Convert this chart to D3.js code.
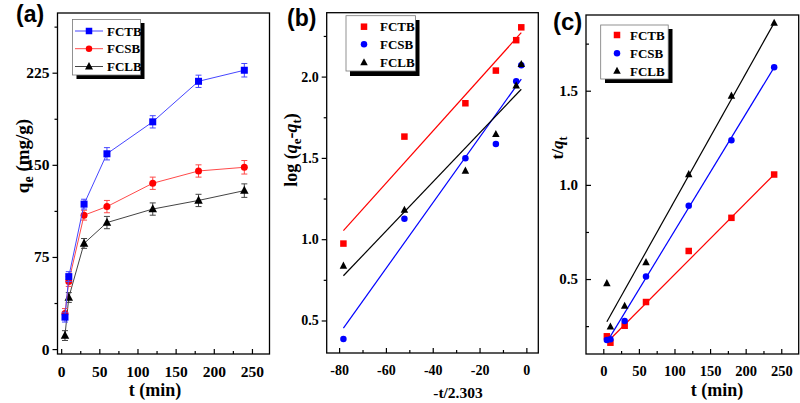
<!DOCTYPE html>
<html><head><meta charset="utf-8">
<script src="https://cdn.jsdelivr.net/npm/d3@7/dist/d3.min.js"></script>
<style>
body{margin:0;background:#fff;}
svg{display:block;}
.tk path,.tk line{stroke:#000;stroke-width:1.2;}
</style></head><body>
<svg id="c" width="800" height="403"></svg>
<script>
// ---------- DATA ----------
const series = ["FCTB", "FCSB", "FCLB"];
// panel (a): kinetics
const tA = [5, 10, 30, 60, 120, 180, 240];
const qFCTB = [26, 59, 118, 159, 185, 218, 227];
const qFCSB = [29, 55, 109, 116, 135, 145, 148];
const qFCLB = [11, 42, 86, 103, 114, 121, 129];
const errFCTB = [4, 4, 4, 5, 5, 5, 5.5];
const errFCSB = [4, 4, 4, 5, 5, 5, 5.5];
const errFCLB = [4, 4, 4, 5, 5, 5, 5.5];
const yTicksA = [0, 75, 150, 225];
const yMinorA = [37.5, 112.5, 187.5, 262.5];
const xTicksA = [0, 50, 100, 150, 200, 250];
const xMinorA = [25, 75, 125, 175, 225];
// panel (b): pseudo-first-order
const xB = [-78.16, -52.10, -26.05, -13.03, -4.34, -2.17];
const logFCTB = [0.973, 1.631, 1.836, 2.037, 2.224, 2.303];
const logFCSB = [0.386, 1.125, 1.498, 1.586, 1.972, 2.07];
const logFCLB = [0.836, 1.18, 1.42, 1.646, 1.945, 2.076];
const fitXB = [-78.16, -2.17];
const fitFCTB_B = [1.053, 2.27];
const fitFCSB_B = [0.453, 1.985];
const fitFCLB_B = [0.775, 1.922];
const yTicksB = [0.5, 1.0, 1.5, 2.0];
const yMinorB = [0.75, 1.25, 1.75, 2.25];
const xTicksB = [-80, -60, -40, -20, 0];
const xMinorB = [-70, -50, -30, -10];
// panel (c): pseudo-second-order
const tC = [5, 10, 30, 60, 120, 180, 240];
const tqFCTB = [0.196, 0.162, 0.252, 0.378, 0.649, 0.825, 1.055];
const tqFCSB = [0.176, 0.18, 0.277, 0.514, 0.889, 1.237, 1.624];
const tqFCLB = [0.477, 0.247, 0.357, 0.589, 1.056, 1.473, 1.86];
const fitXC = [5, 240];
const fitFCTB_C = [0.163, 1.055];
const fitFCSB_C = [0.165, 1.624];
const fitFCLB_C = [0.273, 1.86];
const yTicksC = [0.5, 1.0, 1.5];
const yMinorC = [0.25, 0.75, 1.25, 1.75];
const xTicksC = [0, 50, 100, 150, 200, 250];
const xMinorC = [25, 75, 125, 175, 225];

// ---------- DRAWING ----------
const svg = d3.select("#c");
const SERIF = '"Liberation Serif","Times New Roman",serif';
const SANS = '"Liberation Sans",Arial,sans-serif';
const intFmt = v => String(v);
const dec1 = v => v.toFixed(1);

function marker(g, shape, x, y, color, s) {
  if (shape === "square") {
    g.append("rect").attr("x", x - s/2).attr("y", y - s/2).attr("width", s).attr("height", s).attr("fill", color);
  } else if (shape === "circle") {
    g.append("circle").attr("cx", x).attr("cy", y).attr("r", s/2).attr("fill", color);
  } else {
    const h = s * 0.95;
    g.append("path").attr("d", `M${x},${y - h*0.6}L${x + s/2},${y + h*0.4}L${x - s/2},${y + h*0.4}Z`).attr("fill", color);
  }
}

function styleText(sel, fs) {
  sel.selectAll("text").attr("font-family", SERIF).attr("font-weight", "bold").attr("font-size", fs).attr("fill", "#000");
}

function panel(o) {
  const x = d3.scaleLinear().domain(o.xd).range([o.l, o.r]);
  const y = d3.scaleLinear().domain(o.yd).range([o.b, o.t]);
  const g = svg.append("g");
  const fs = o.fs;
  const xa = g.append("g").attr("class", "tk").attr("transform", `translate(0,${o.b})`)
    .call(d3.axisBottom(x).tickValues(o.xt).tickSizeInner(-5).tickSizeOuter(0).tickPadding(o.xpad).tickFormat(o.xf));
  styleText(xa, fs);
  xa.select(".domain").remove();
  g.append("g").attr("class", "tk").attr("transform", `translate(0,${o.b})`)
    .call(d3.axisBottom(x).tickValues(o.xm).tickSizeInner(-3).tickSizeOuter(0).tickFormat(""))
    .select(".domain").remove();
  const ys = o.yOut ? 5 : -5;
  const ya = g.append("g").attr("class", "tk").attr("transform", `translate(${o.l},0)`)
    .call(d3.axisLeft(y).tickValues(o.yt).tickSizeInner(ys).tickSizeOuter(0).tickPadding(o.ypad).tickFormat(o.yf));
  styleText(ya, o.yfs || fs);
  ya.select(".domain").remove();
  g.append("g").attr("class", "tk").attr("transform", `translate(${o.l},0)`)
    .call(d3.axisLeft(y).tickValues(o.ym).tickSizeInner(o.yOut ? 3 : -3).tickSizeOuter(0).tickFormat(""))
    .select(".domain").remove();
  g.append("rect").attr("x", o.l).attr("y", o.t).attr("width", o.r - o.l).attr("height", o.b - o.t)
    .attr("fill", "none").attr("stroke", "#000").attr("stroke-width", 1.3);
  return {x, y, g};
}

function serifText(g, x, y, fs, txt, anchor) {
  return g.append("text").attr("x", x).attr("y", y).attr("text-anchor", anchor || "start")
    .attr("font-family", SERIF).attr("font-weight", "bold").attr("font-size", fs).text(txt);
}

// ---- Panel (a)
{
  const P = panel({l: 57.5, r: 269.5, t: 13, b: 354, xd: [-4.8, 273], yd: [-4, 273.6],
    xt: xTicksA, xm: xMinorA, yt: yTicksA, ym: yMinorA, fs: 15.5, yOut: true,
    xpad: 12, ypad: 3, xf: intFmt, yf: intFmt});
  const {x, y, g} = P;
  const cols = {FCTB: "#0000ff", FCSB: "#ff0000", FCLB: "#000000"};
  const lcols = {FCTB: "#4646ff", FCSB: "#ff4a4a", FCLB: "#444444"};
  const shapes = {FCTB: "square", FCSB: "circle", FCLB: "triangle"};
  const data = {FCTB: qFCTB, FCSB: qFCSB, FCLB: qFCLB};
  const errs = {FCTB: errFCTB, FCSB: errFCSB, FCLB: errFCLB};
  const line = d3.line().x(d => x(d[0])).y(d => y(d[1]));
  ["FCLB", "FCSB", "FCTB"].forEach(s => {
    g.append("path").attr("d", line(tA.map((t, i) => [t, data[s][i]])))
      .attr("fill", "none").attr("stroke", lcols[s]).attr("stroke-width", 1);
    tA.forEach((t, i) => {
      const v = data[s][i], e = errs[s][i];
      const px = x(t);
      g.append("line").attr("x1", px).attr("x2", px).attr("y1", y(v - e)).attr("y2", y(v + e)).attr("stroke", lcols[s]).attr("stroke-width", 1);
      [v - e, v + e].forEach(w => g.append("line").attr("x1", px - 3).attr("x2", px + 3).attr("y1", y(w)).attr("y2", y(w)).attr("stroke", lcols[s]).attr("stroke-width", 1));
    });
    tA.forEach((t, i) => marker(g, shapes[s], x(t), y(data[s][i]), cols[s], s === "FCLB" ? 8.5 : 7));
  });
  const lg = g.append("g");
  lg.append("rect").attr("x", 76.5).attr("y", 23).attr("width", 68).attr("height", 56).attr("fill", "#000");
  lg.append("rect").attr("x", 72.5).attr("y", 19.5).attr("width", 68).attr("height", 55.5).attr("fill", "#fff").attr("stroke", "#777").attr("stroke-width", 0.8);
  const ly = [31, 48.7, 66.5];
  series.forEach((s, i) => {
    lg.append("line").attr("x1", 75).attr("x2", 103).attr("y1", ly[i]).attr("y2", ly[i]).attr("stroke", lcols[s]).attr("stroke-width", 1);
    marker(lg, shapes[s], 89, ly[i], cols[s], s === "FCLB" ? 8 : 6.5);
    serifText(lg, 107, ly[i] + 4.5, 13, s);
  });
  serifText(g, 155, 396, 18, "t (min)", "middle");
  const yt = g.append("text").attr("transform", "translate(29,156) rotate(-90)").attr("text-anchor", "middle").attr("font-family", SERIF).attr("font-weight", "bold").attr("font-size", 19);
  yt.append("tspan").text("q");
  yt.append("tspan").attr("font-size", 14).attr("dy", 4).text("e");
  yt.append("tspan").attr("dy", -4).text(" (mg/g)");
  g.append("text").attr("x", 16).attr("y", 22).attr("font-family", SANS).attr("font-weight", "bold").attr("font-size", 23).text("(a)");
}

// ---- Panel (b)
{
  const P = panel({l: 326.7, r: 538.3, t: 12.7, b: 353, xd: [-85.3, 5.1], yd: [0.3, 2.393],
    xt: xTicksB, xm: xMinorB, yt: yTicksB, ym: yMinorB, fs: 14, yOut: true,
    xpad: 12, ypad: 3, xf: intFmt, yf: dec1});
  const {x, y, g} = P;
  const cols = {FCTB: "#ff0000", FCSB: "#0000ff", FCLB: "#000000"};
  const shapes = {FCTB: "square", FCSB: "circle", FCLB: "triangle"};
  const data = {FCTB: logFCTB, FCSB: logFCSB, FCLB: logFCLB};
  const fits = {FCTB: fitFCTB_B, FCSB: fitFCSB_B, FCLB: fitFCLB_B};
  series.forEach(s => {
    g.append("line").attr("x1", x(fitXB[0])).attr("x2", x(fitXB[1])).attr("y1", y(fits[s][0])).attr("y2", y(fits[s][1]))
      .attr("stroke", cols[s]).attr("stroke-width", 1.2);
  });
  series.forEach(s => {
    xB.forEach((v, i) => marker(g, shapes[s], x(v), y(data[s][i]), cols[s], s === "FCLB" ? 7.5 : 6.5));
  });
  const lg = g.append("g");
  lg.append("rect").attr("x", 350).attr("y", 20).attr("width", 69.5).attr("height", 56).attr("fill", "#000");
  lg.append("rect").attr("x", 346).attr("y", 15.7).attr("width", 69.5).attr("height", 55.3).attr("fill", "#fff").attr("stroke", "#777").attr("stroke-width", 0.8);
  const ly = [26.7, 44.3, 62.5];
  series.forEach((s, i) => {
    marker(lg, shapes[s], 364, ly[i], cols[s], s === "FCLB" ? 7.5 : 6.5);
    serifText(lg, 380, ly[i] + 4.5, 13, s);
  });
  serifText(g, 458, 398, 15.5, "-t/2.303", "middle");
  const yt = g.append("text").attr("transform", "translate(297,150) rotate(-90)").attr("text-anchor", "middle").attr("font-family", SERIF).attr("font-weight", "bold").attr("font-size", 18);
  yt.append("tspan").text("log (");
  yt.append("tspan").attr("font-style", "italic").text("q");
  yt.append("tspan").attr("font-size", 13).attr("dy", 4).text("e");
  yt.append("tspan").attr("dy", -4).text("-");
  yt.append("tspan").attr("font-style", "italic").text("q");
  yt.append("tspan").attr("font-size", 13).attr("dy", 4).text("t");
  yt.append("tspan").attr("dy", -4).text(")");
  g.append("text").attr("x", 287).attr("y", 26).attr("font-family", SANS).attr("font-weight", "bold").attr("font-size", 23).text("(b)");
}

// ---- Panel (c)
{
  const P = panel({l: 586, r: 798.7, t: 15, b: 354, xd: [-24.3, 274.5], yd: [0.102, 1.902],
    xt: xTicksC, xm: xMinorC, yt: yTicksC, ym: yMinorC, fs: 14.5, yfs: 15, yOut: false,
    xpad: 12, ypad: 8, xf: intFmt, yf: dec1});
  const {x, y, g} = P;
  const cols = {FCTB: "#ff0000", FCSB: "#0000ff", FCLB: "#000000"};
  const shapes = {FCTB: "square", FCSB: "circle", FCLB: "triangle"};
  const data = {FCTB: tqFCTB, FCSB: tqFCSB, FCLB: tqFCLB};
  const fits = {FCTB: fitFCTB_C, FCSB: fitFCSB_C, FCLB: fitFCLB_C};
  series.forEach(s => {
    g.append("line").attr("x1", x(fitXC[0])).attr("x2", x(fitXC[1])).attr("y1", y(fits[s][0])).attr("y2", y(fits[s][1]))
      .attr("stroke", cols[s]).attr("stroke-width", 1.2);
  });
  series.forEach(s => {
    tC.forEach((v, i) => marker(g, shapes[s], x(v), y(data[s][i]), cols[s], s === "FCLB" ? 7.5 : 6.5));
  });
  const lg = g.append("g");
  lg.append("rect").attr("x", 605).attr("y", 29).attr("width", 67.5).attr("height", 54).attr("fill", "#000");
  lg.append("rect").attr("x", 600.7).attr("y", 25).attr("width", 67.5).attr("height", 54).attr("fill", "#fff").attr("stroke", "#777").attr("stroke-width", 0.8);
  const ly = [35, 53.3, 71];
  series.forEach((s, i) => {
    marker(lg, shapes[s], 617, ly[i], cols[s], s === "FCLB" ? 7.5 : 6.5);
    serifText(lg, 630, ly[i] + 4.5, 13, s);
  });
  serifText(g, 717, 396, 18, "t (min)", "middle");
  const yt = g.append("text").attr("transform", "translate(563,148) rotate(-90)").attr("text-anchor", "middle").attr("font-family", SERIF).attr("font-weight", "bold").attr("font-size", 17);
  yt.append("tspan").text("t/");
  yt.append("tspan").attr("font-style", "italic").text("q");
  yt.append("tspan").attr("font-size", 12).attr("dy", 4).text("t");
  g.append("text").attr("x", 553).attr("y", 30).attr("font-family", SANS).attr("font-weight", "bold").attr("font-size", 24).text("(c)");
}
</script>
</body></html>
